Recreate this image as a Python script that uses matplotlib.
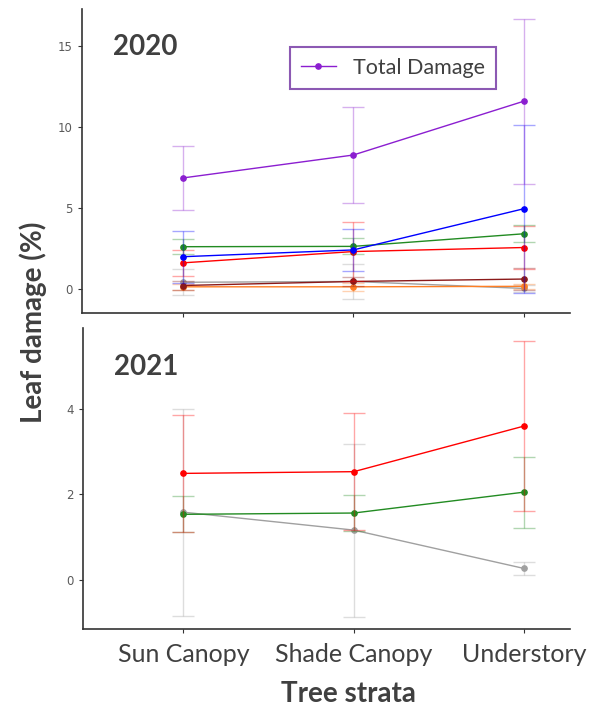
import matplotlib
matplotlib.use("Agg")
import matplotlib.pyplot as plt
import numpy as np

# strata on the x axis
strata = ["Sun Canopy", "Shade Canopy", "Understory"]

# 2020 panel: means and error (+/-) per damage type
total_2020 = [6.85, 8.27, 11.6]
total_2020_err = [2.0, 2.95, 5.1]
blue_2020 = [1.98, 2.4, 4.95]
blue_2020_err = [1.6, 1.3, 5.2]
green_2020 = [2.6, 2.62, 3.4]
green_2020_err = [0.47, 0.5, 0.52]
red_2020 = [1.6, 2.3, 2.55]
red_2020_err = [0.8, 1.8, 1.3]
darkred_2020 = [0.2, 0.45, 0.6]
darkred_2020_err = [0.25, 0.3, 0.7]
orange_2020 = [0.12, 0.12, 0.15]
orange_2020_err = [0.2, 0.25, 0.15]
gray_2020 = [0.4, 0.45, 0.02]
gray_2020_err = [0.8, 1.1, 0.2]

# 2021 panel
red_2021 = [2.49, 2.53, 3.6]
red_2021_err = [1.38, 1.37, 2.0]
green_2021 = [1.53, 1.56, 2.05]
green_2021_err = [0.42, 0.42, 0.83]
gray_2021 = [1.58, 1.16, 0.26]
gray_2021_err = [2.43, 2.03, 0.15]

TXT = "#404040"
FONT = ["Lato", "DejaVu Sans"]

fig = plt.figure(figsize=(6.08, 7.07), dpi=100)
ax1 = fig.add_axes([82/608, 1-313/707, 488/608, 304/707])
ax2 = fig.add_axes([83/608, 1-629/707, 487/608, 301/707])

x = np.arange(1, len(strata) + 1)


def draw(ax, y, err, color, label=None):
    ax.errorbar(x, y, yerr=err, fmt="none", ecolor=color, alpha=0.35,
                elinewidth=1, capsize=8, capthick=1)
    ax.plot(x, y, color=color, lw=1.0, marker="o", ms=3.8, label=label)


draw(ax1, gray_2020, gray_2020_err, "#A0A0A0")
draw(ax1, orange_2020, orange_2020_err, "#FF7F24")
draw(ax1, darkred_2020, darkred_2020_err, "#8B1A1A")
draw(ax1, red_2020, red_2020_err, "#FF0000")
draw(ax1, green_2020, green_2020_err, "#228B22")
draw(ax1, blue_2020, blue_2020_err, "#0000FF")
draw(ax1, total_2020, total_2020_err, "#8B1ED0", label="Total Damage")

draw(ax2, gray_2021, gray_2021_err, "#A0A0A0")
draw(ax2, green_2021, green_2021_err, "#228B22")
draw(ax2, red_2021, red_2021_err, "#FF0000")

ax1.set_ylim(-1.5, 17.3)
ax1.set_yticks([0, 5, 10, 15])
ax2.set_ylim(-1.16, 5.9)
ax2.set_yticks([0, 2, 4])

for ax in (ax1, ax2):
    ax.set_xlim(0.41, 3.27)
    ax.set_xticks(x)
    for s in ("top", "right"):
        ax.spines[s].set_visible(False)
    for s in ("left", "bottom"):
        ax.spines[s].set_color("#333333")
        ax.spines[s].set_linewidth(1.2)
    ax.tick_params(axis="y", labelsize=8.5, colors="#333333", labelcolor="#5A5A5A", length=3)
    ax.tick_params(axis="x", colors="#333333", length=3)

ax1.set_xticklabels([])
ax2.set_xticklabels(strata, fontsize=18, color=TXT, family=FONT)
ax2.tick_params(axis="x", pad=7)

ax1.text(0.064, 0.875, "2020", transform=ax1.transAxes, fontsize=20,
         fontweight="bold", color=TXT, family=FONT, va="center")
ax2.text(0.064, 0.87, "2021", transform=ax2.transAxes, fontsize=20,
         fontweight="bold", color=TXT, family=FONT, va="center")

leg = ax1.legend(loc="upper left", bbox_to_anchor=(0.405, 0.91), fancybox=False,
                 prop={"family": FONT, "size": 15.5}, handlelength=1.6,
                 borderpad=0.5, labelcolor=TXT)
leg.get_frame().set_edgecolor("#7030A0")
leg.get_frame().set_linewidth(1.5)

fig.text(0.054, 1-322/707, "Leaf damage (%)", rotation=90, fontsize=20,
         fontweight="bold", color=TXT, family=FONT, ha="center", va="center")
fig.text(348/608, 1-694/707, "Tree strata", fontsize=20,
         fontweight="bold", color=TXT, family=FONT, ha="center", va="center")

fig.savefig("out.png", dpi=100)
